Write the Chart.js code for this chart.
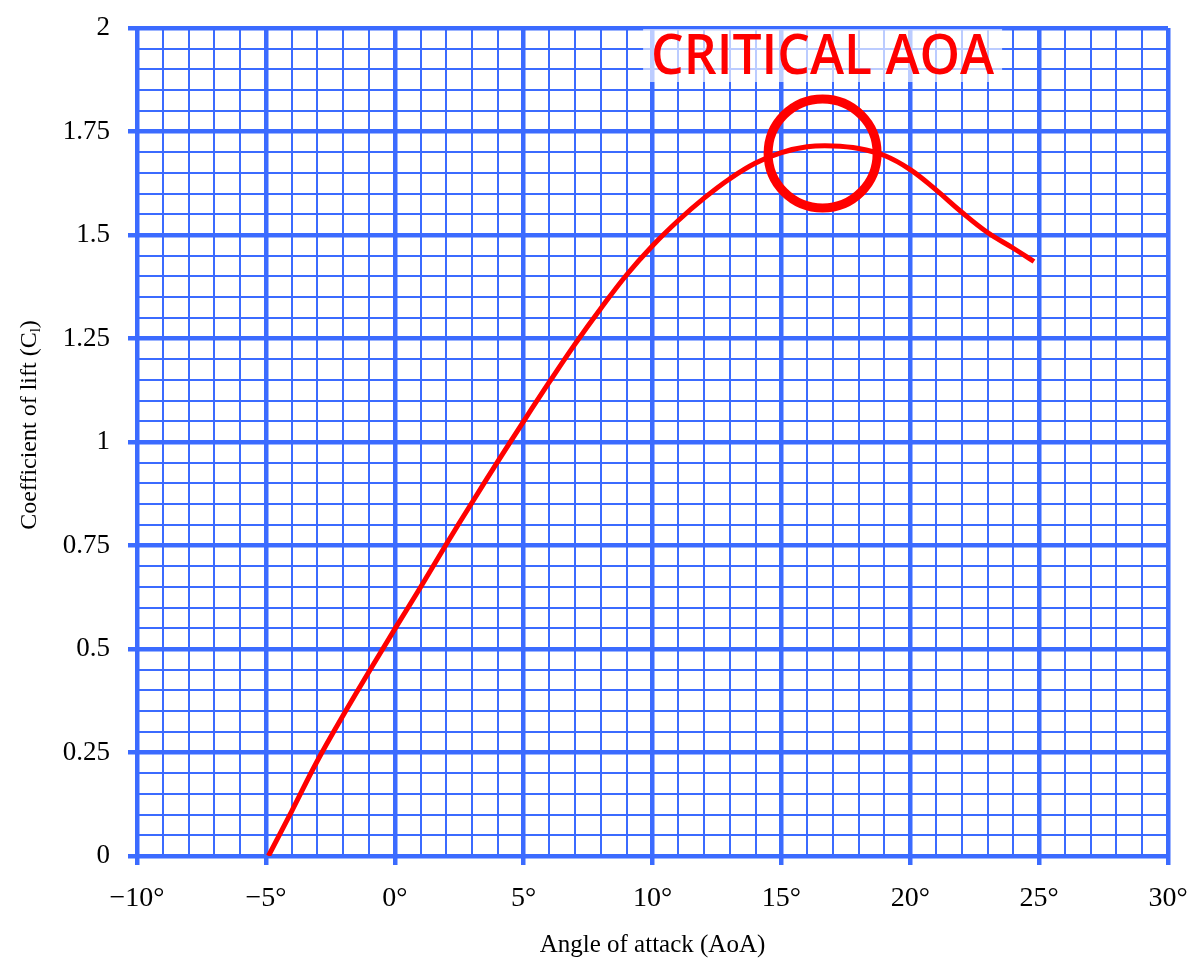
<!DOCTYPE html>
<html>
<head>
<meta charset="utf-8">
<script src="https://cdn.jsdelivr.net/npm/chart.js@4.4.1/dist/chart.umd.min.js"></script>
<style>
  html, body { margin: 0; padding: 0; background: #ffffff; }
  #wrap { width: 1200px; height: 975px; }
</style>
</head>
<body>
<div id="wrap"><canvas id="c" width="1200" height="975"></canvas></div>
<script>
// ---- data ----
const angles = [-4.9, -4, -3, -2, -1, 0, 1, 2, 3, 4, 5, 6, 7, 8, 9, 10, 11, 12, 13, 14, 15, 16, 17, 18, 19, 20, 21, 22, 23, 24, 24.8];
const liftCoeff = [0, 0.108, 0.23, 0.34, 0.445, 0.548, 0.649, 0.753, 0.854, 0.953, 1.05, 1.145, 1.237, 1.323, 1.404, 1.474, 1.535, 1.589, 1.636, 1.674, 1.699, 1.713, 1.715, 1.709, 1.692, 1.658, 1.609, 1.555, 1.506, 1.468, 1.436];
const xTickLabels = ['\u221210\u00b0', '\u22125\u00b0', '0\u00b0', '5\u00b0', '10\u00b0', '15\u00b0', '20\u00b0', '25\u00b0', '30\u00b0'];
const yTickLabels = ['0', '0.25', '0.5', '0.75', '1', '1.25', '1.5', '1.75', '2'];
const xTitle = 'Angle of attack (AoA)';
const yTitleMain = 'Coefficient of lift (C';
const yTitleSub = 'l';
const yTitleEnd = ')';
const criticalLabel = 'CRITICAL AOA';
const criticalAngle = 16.6;
const criticalCl = 1.697;

const BLUE = '#3b6bff';
const RED = '#ff0000';
const SERIF = '"Liberation Serif", "Times New Roman", serif';

function isMajorX(v) { return Math.abs(v / 5 - Math.round(v / 5)) < 1e-6; }
function isMajorY(v) { return Math.abs(v / 0.25 - Math.round(v / 0.25)) < 1e-6; }

const points = angles.map((a, i) => ({ x: a, y: liftCoeff[i] }));

const overlay = {
  id: 'overlay',
  afterDatasetsDraw(chart) {
    const ctx = chart.ctx;
    const xs = chart.scales.x, ys = chart.scales.y;
    const area = chart.chartArea;
    const cx = xs.getPixelForValue(criticalAngle);
    const cy = ys.getPixelForValue(criticalCl);

    // label box + text
    ctx.save();
    ctx.font = '600 56px "Open Sans", "Noto Sans", sans-serif';
    const tw = ctx.measureText(criticalLabel).width;
    const targetW = 343;
    const sx = targetW / tw;
    const boxW = targetW + 16;
    ctx.fillStyle = 'rgba(255,255,255,0.66)';
    ctx.fillRect(cx - boxW / 2, area.top + 1, boxW, 53);
    ctx.fillStyle = RED;
    ctx.textBaseline = 'alphabetic';
    ctx.textAlign = 'center';
    ctx.translate(cx, area.top + 46);
    ctx.scale(sx, 1);
    ctx.fillText(criticalLabel, 0, 0);
    ctx.restore();

    // circle
    ctx.save();
    ctx.beginPath();
    ctx.arc(cx, cy, 54.5, 0, Math.PI * 2);
    ctx.lineWidth = 9;
    ctx.strokeStyle = RED;
    ctx.stroke();
    ctx.restore();

    // y title with subscript
    ctx.save();
    ctx.translate(28, 425);
    ctx.rotate(-Math.PI / 2);
    ctx.fillStyle = '#000';
    ctx.textBaseline = 'alphabetic';
    ctx.textAlign = 'left';
    const mainFont = '24px ' + SERIF;
    const subFont = '15px ' + SERIF;
    ctx.font = mainFont;
    const w1 = ctx.measureText(yTitleMain).width;
    const w3 = ctx.measureText(yTitleEnd).width;
    ctx.font = subFont;
    const w2 = ctx.measureText(yTitleSub).width;
    let x0 = -(w1 + w2 + w3) / 2;
    const base = 8;
    ctx.font = mainFont;
    ctx.fillText(yTitleMain, x0, base);
    ctx.font = subFont;
    ctx.fillText(yTitleSub, x0 + w1, base + 4);
    ctx.font = mainFont;
    ctx.fillText(yTitleEnd, x0 + w1 + w2, base);
    ctx.restore();
  }
};

new Chart(document.getElementById('c'), {
  type: 'line',
  data: {
    datasets: [{
      data: points,
      borderColor: RED,
      borderWidth: 5,
      pointRadius: 0,
      fill: false,
      tension: 0.4
    }]
  },
  options: {
    responsive: false,
    animation: false,
    devicePixelRatio: 1,
    layout: { padding: { top: 28, right: 32, left: 0, bottom: 0 } },
    plugins: { legend: { display: false }, tooltip: { enabled: false } },
    scales: {
      x: {
        type: 'linear',
        min: -10, max: 30,
        afterFit(scale) { scale.height = 119; scale.paddingLeft = 0; scale.paddingRight = 0; },
        border: { display: false },
        grid: {
          color: BLUE,
          lineWidth: (c) => isMajorX(c.tick.value) ? 4.5 : 2,
          tickLength: 9,
          tickColor: (c) => isMajorX(c.tick.value) ? BLUE : 'rgba(0,0,0,0)',
          tickWidth: (c) => isMajorX(c.tick.value) ? 4.5 : 0
        },
        ticks: {
          stepSize: 1,
          autoSkip: false,
          maxRotation: 0,
          padding: 17,
          color: '#000',
          font: { family: SERIF, size: 28 },
          callback: (v) => isMajorX(v) ? xTickLabels[Math.round((v + 10) / 5)] : ''
        },
        title: {
          display: true,
          text: xTitle,
          color: '#000',
          font: { family: SERIF, size: 25 },
          padding: { top: 0, bottom: 15 }
        }
      },
      y: {
        type: 'linear',
        min: 0, max: 2,
        afterFit(scale) { scale.width = 137; scale.paddingTop = 0; scale.paddingBottom = 0; },
        border: { display: false },
        grid: {
          color: BLUE,
          lineWidth: (c) => isMajorY(c.tick.value) ? 4.5 : 2,
          tickLength: 9,
          tickColor: (c) => isMajorY(c.tick.value) ? BLUE : 'rgba(0,0,0,0)',
          tickWidth: (c) => isMajorY(c.tick.value) ? 4.5 : 0
        },
        ticks: {
          stepSize: 0.05,
          autoSkip: false,
          padding: 18,
          color: '#000',
          font: { family: SERIF, size: 27 },
          callback: (v) => isMajorY(v) ? yTickLabels[Math.round(v / 0.25)] : ''
        }
      }
    }
  },
  plugins: [overlay]
});
</script>
</body>
</html>
